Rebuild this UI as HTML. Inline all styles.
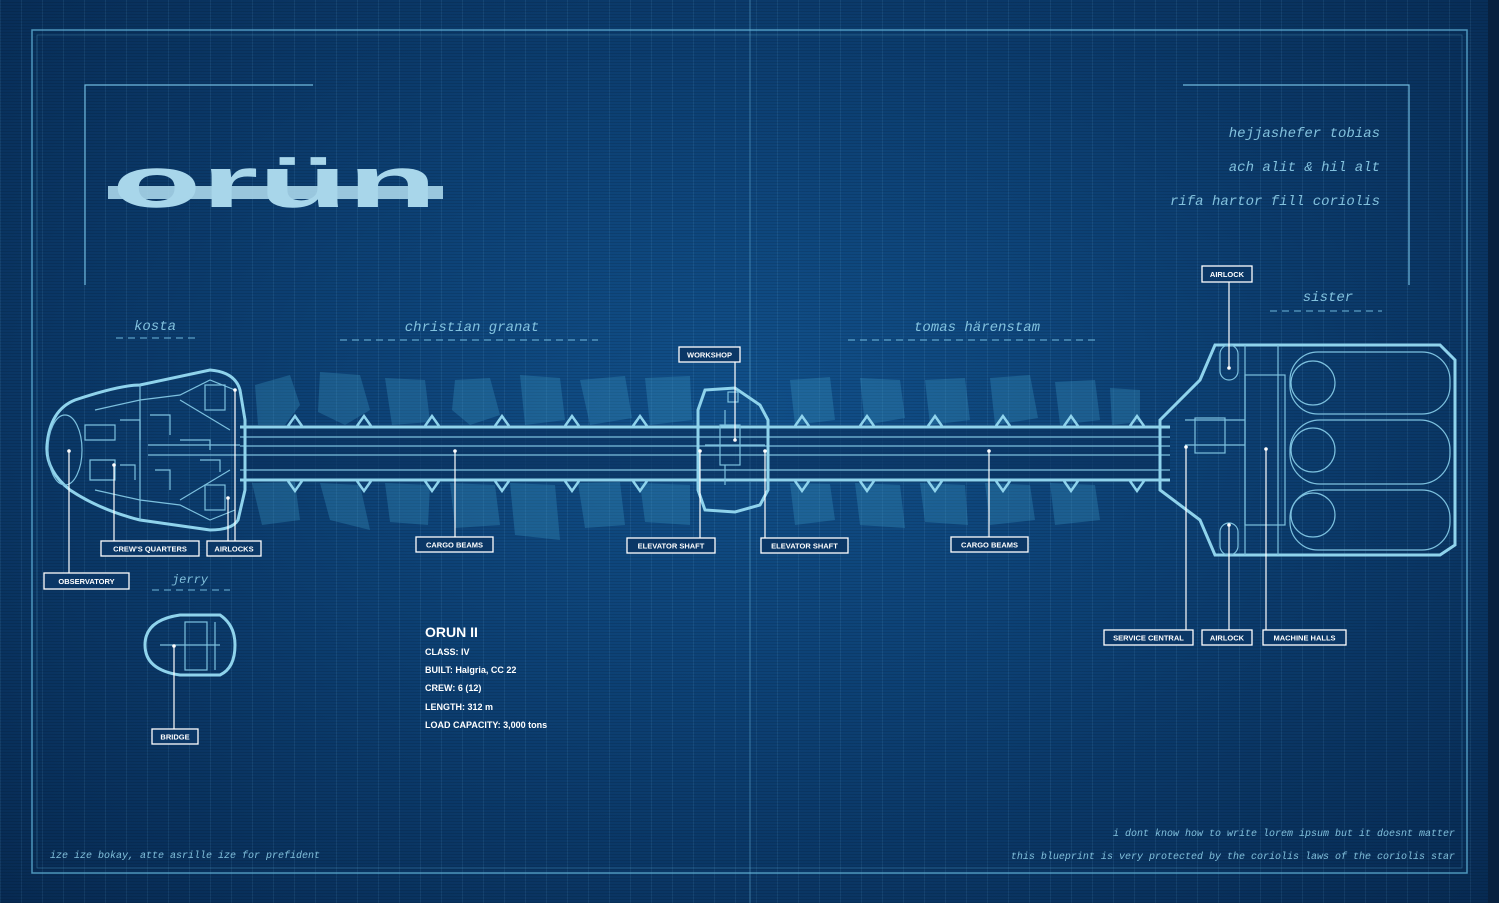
<!DOCTYPE html>
<html><head><meta charset="utf-8"><style>
html,body{margin:0;padding:0;}
body{width:1499px;height:903px;overflow:hidden;background:#0a3463;font-family:"Liberation Sans",sans-serif;}
#bg{position:absolute;left:0;top:0;width:1499px;height:903px;
background:
repeating-linear-gradient(0deg,rgba(0,0,0,0.10) 0 1px,transparent 1px 3px),
repeating-linear-gradient(90deg,rgba(120,190,230,0.10) 0 1px,transparent 1px 21px),
radial-gradient(ellipse at 50% 45%,#11508a 0%,#0c3f72 45%,#072a52 100%);}
svg{position:absolute;left:0;top:0;}
.lbl{fill:#fff;font-family:"Liberation Sans",sans-serif;font-weight:bold;font-size:7.5px;text-anchor:middle;}
.box{fill:#0b3766;stroke:#fff;stroke-width:1.3;}
.ld{stroke:#fff;stroke-width:1.2;fill:none;}
.sc{fill:#8fd0ea;font-family:"Liberation Mono",monospace;font-style:italic;opacity:0.9;}
.h{fill:none;stroke:#8fd3ec;stroke-width:3;}
.t{fill:none;stroke:#7cc0de;stroke-width:1.2;}
.blob{fill:#3f9cc7;opacity:0.3;}
.info{fill:#fff;font-weight:bold;font-size:9px;}
</style></head><body>
<div id="bg"></div>
<svg width="1499" height="903" viewBox="0 0 1499 903">
<rect x="32" y="30" width="1435" height="843" fill="none" stroke="#5fb0d6" stroke-width="1.5" opacity="0.8"/>
<rect x="37" y="35" width="1425" height="833" fill="none" stroke="#5fb0d6" stroke-width="0.6" opacity="0.5"/>
<line x1="750" y1="0" x2="750" y2="903" stroke="#6ab4da" stroke-width="1" opacity="0.5"/>
<rect x="1488" y="0" width="11" height="903" fill="#08213f"/>
<g stroke="#6fb8dc" stroke-width="1.2" fill="none">
<polyline points="313,85 85,85 85,285"/><polyline points="1183,85 1409,85 1409,285"/>
</g>
<!-- title -->
<rect x="108" y="186" width="335" height="13" fill="#a8d6ea" opacity="0.9"/>
<text x="112" y="207" fill="#a8d6ea" font-size="72" font-weight="bold" font-family="'Liberation Sans',sans-serif" textLength="325" lengthAdjust="spacingAndGlyphs">orün</text>
<g class="sc" font-size="14">
<text x="1380" y="137" text-anchor="end">hejjashefer tobias</text>
<text x="1380" y="171" text-anchor="end">ach alit &amp; hil alt</text>
<text x="1380" y="205" text-anchor="end">rifa hartor fill coriolis</text>
<text x="155" y="330" text-anchor="middle">kosta</text>
<text x="472" y="331" text-anchor="middle">christian granat</text>
<text x="977" y="331" text-anchor="middle">tomas härenstam</text>
<text x="1328" y="301" text-anchor="middle">sister</text>
<text x="190" y="583" text-anchor="middle" font-size="12">jerry</text>
</g>
<g stroke="#6fb8dc" stroke-dasharray="7,5" stroke-width="1">
<line x1="116" y1="338" x2="200" y2="338"/><line x1="340" y1="340" x2="598" y2="340"/>
<line x1="848" y1="340" x2="1100" y2="340"/><line x1="1270" y1="311" x2="1382" y2="311"/>
<line x1="152" y1="590" x2="230" y2="590"/>
</g>
<g class="sc" font-size="10">
<text x="50" y="858">ize ize bokay, atte asrille ize for prefident</text>
<text x="1455" y="836" text-anchor="end">i dont know how to write lorem ipsum but it doesnt matter</text>
<text x="1455" y="859" text-anchor="end">this blueprint is very protected by the coriolis laws of the coriolis star</text>
</g>
<g class="blob">
<polygon points="255,385 290,375 300,405 285,425 258,425"/>
<polygon points="320,372 360,375 370,410 345,425 318,412"/>
<polygon points="385,378 425,380 430,422 392,425"/>
<polygon points="455,380 490,378 500,415 470,425 452,410"/>
<polygon points="520,375 560,378 565,420 525,425"/>
<polygon points="580,380 625,376 632,418 590,425"/>
<polygon points="645,378 690,376 692,420 650,425"/>
<polygon points="790,380 830,377 835,420 795,425"/>
<polygon points="860,378 900,380 905,418 865,425"/>
<polygon points="925,380 965,378 970,420 930,425"/>
<polygon points="990,378 1030,375 1038,418 995,425"/>
<polygon points="1055,382 1095,380 1100,420 1060,425"/>
<polygon points="1110,388 1140,390 1140,422 1112,425"/>
<polygon points="252,483 295,482 300,520 262,525"/>
<polygon points="320,483 360,485 370,530 330,520"/>
<polygon points="385,483 430,485 428,525 390,522"/>
<polygon points="450,483 495,485 500,525 455,528"/>
<polygon points="510,483 555,485 560,540 515,535"/>
<polygon points="578,483 620,482 625,525 585,528"/>
<polygon points="640,483 690,485 690,525 645,522"/>
<polygon points="790,483 830,484 835,520 795,525"/>
<polygon points="855,483 900,485 905,528 860,525"/>
<polygon points="920,483 965,485 968,525 925,522"/>
<polygon points="985,483 1030,485 1035,520 990,525"/>
<polygon points="1050,483 1095,485 1100,520 1055,525"/>
</g>
<rect x="240" y="425" width="930" height="57" fill="#0a2f5a" opacity="0.6"/>
<g class="h"><line x1="240" y1="427" x2="1170" y2="427"/><line x1="240" y1="480" x2="1170" y2="480"/></g>
<g class="t"><line x1="240" y1="437" x2="1170" y2="437"/><line x1="240" y1="446" x2="1170" y2="446"/><line x1="240" y1="455" x2="1170" y2="455"/><line x1="240" y1="470" x2="1170" y2="470"/></g>
<g fill="none" stroke="#8fd3ec" stroke-width="2.5">
<path d="M288,426 l7,-10 l7,10 M357,426 l7,-10 l7,10 M425,426 l7,-10 l7,10 M495,426 l7,-10 l7,10 M565,426 l7,-10 l7,10 M633,426 l7,-10 l7,10 M795,426 l7,-10 l7,10 M860,426 l7,-10 l7,10 M928,426 l7,-10 l7,10 M996,426 l7,-10 l7,10 M1064,426 l7,-10 l7,10 M1130,426 l7,-10 l7,10"/>
<path d="M288,481 l7,10 l7,-10 M357,481 l7,10 l7,-10 M425,481 l7,10 l7,-10 M495,481 l7,10 l7,-10 M565,481 l7,10 l7,-10 M633,481 l7,10 l7,-10 M795,481 l7,10 l7,-10 M860,481 l7,10 l7,-10 M928,481 l7,10 l7,-10 M996,481 l7,10 l7,-10 M1064,481 l7,10 l7,-10 M1130,481 l7,10 l7,-10"/>
</g>
<path d="M75,400 Q120,385 140,385 L210,370 Q235,372 240,390 L245,420 L245,490 L238,520 Q232,530 210,530 L140,520 Q100,510 70,490 Q45,470 47,445 Q50,410 75,400Z" fill="#0a2f5a" class="h"/>
<ellipse cx="65" cy="450" rx="17" ry="35" class="t"/>
<g class="t">
<path d="M140,385 L140,520 M95,410 L140,400 L180,395 L210,380 L235,390 M95,490 L140,500 L180,505 L210,520 L235,510"/>
<path d="M180,400 L230,430 M180,500 L230,470 M148,445 L240,445 M148,455 L240,455 M85,425 h30 v15 h-30z M90,460 h25 v20 h-25z M120,420 h20 v20 M120,465 h15 v15 M150,415 h20 v20 M155,470 h15 v20 M180,440 h30 v10 M200,460 h20 v12"/>
<rect x="205" y="385" width="20" height="25"/><rect x="205" y="485" width="20" height="25"/>
</g>
<path d="M705,390 L735,388 L760,405 L768,420 L768,490 L760,505 L735,512 L705,510 L698,490 L698,410Z" fill="#0a2f5a" class="h"/>
<g class="t"><rect x="720" y="425" width="20" height="40"/><path d="M705,445 h60 M725,410 v15 M725,465 v20"/><rect x="728" y="392" width="10" height="10"/></g>
<path d="M1160,420 L1200,380 L1215,345 L1440,345 L1455,360 L1455,545 L1440,555 L1215,555 L1200,520 L1160,490Z" fill="#0a2f5a" class="h"/>
<g class="t">
<rect x="1220" y="345" width="18" height="35" rx="9"/><rect x="1220" y="523" width="18" height="32" rx="9"/>
<path d="M1245,345 v210 M1278,345 v210 M1185,420 L1245,420 M1245,445 h-60"/>
<rect x="1245" y="375" width="40" height="150"/>
<rect x="1195" y="418" width="30" height="35"/>
<rect x="1290" y="352" width="160" height="62" rx="28"/>
<rect x="1290" y="420" width="160" height="64" rx="30"/>
<rect x="1290" y="490" width="160" height="60" rx="28"/>
<circle cx="1313" cy="383" r="22"/><circle cx="1313" cy="450" r="22"/><circle cx="1313" cy="515" r="22"/>
</g>
<path d="M145,645 Q145,620 180,615 L220,615 Q235,625 235,645 Q235,668 220,675 L180,675 Q145,670 145,645Z" fill="#0a2f5a" class="h"/>
<g class="t"><rect x="185" y="622" width="22" height="48"/><path d="M160,645 h60 M215,622 v48"/></g>
<g class="ld">
<line x1="735" y1="362" x2="735" y2="440"/>
<line x1="114" y1="541" x2="114" y2="465"/>
<line x1="228" y1="541" x2="228" y2="498"/>
<line x1="235" y1="541" x2="235" y2="390"/>
<line x1="69" y1="573" x2="69" y2="451"/>
<line x1="455" y1="537" x2="455" y2="451"/>
<line x1="700" y1="538" x2="700" y2="451"/>
<line x1="765" y1="538" x2="765" y2="451"/>
<line x1="989" y1="537" x2="989" y2="451"/>
<line x1="1229" y1="282" x2="1229" y2="368"/>
<line x1="1186" y1="630" x2="1186" y2="447"/>
<line x1="1229" y1="630" x2="1229" y2="525"/>
<line x1="1266" y1="630" x2="1266" y2="449"/>
<line x1="174" y1="729" x2="174" y2="646"/>
</g>
<g fill="#fff">
<circle cx="735" cy="440" r="1.8"/><circle cx="114" cy="465" r="1.8"/><circle cx="228" cy="498" r="1.8"/><circle cx="235" cy="390" r="1.8"/><circle cx="69" cy="451" r="1.8"/><circle cx="455" cy="451" r="1.8"/><circle cx="700" cy="451" r="1.8"/><circle cx="765" cy="451" r="1.8"/><circle cx="989" cy="451" r="1.8"/><circle cx="1229" cy="368" r="1.8"/><circle cx="1186" cy="447" r="1.8"/><circle cx="1229" cy="525" r="1.8"/><circle cx="1266" cy="449" r="1.8"/><circle cx="174" cy="646" r="1.8"/>
</g>
<g>
<rect class="box" x="679" y="347" width="61" height="15"/><text class="lbl" x="709.5" y="357.5">WORKSHOP</text>
<rect class="box" x="101" y="541" width="98" height="15"/><text class="lbl" x="150" y="551.5">CREW'S QUARTERS</text>
<rect class="box" x="207" y="541" width="54" height="15"/><text class="lbl" x="234" y="551.5">AIRLOCKS</text>
<rect class="box" x="44" y="573" width="85" height="16"/><text class="lbl" x="86.5" y="584">OBSERVATORY</text>
<rect class="box" x="416" y="537" width="77" height="15"/><text class="lbl" x="454.5" y="547.5">CARGO BEAMS</text>
<rect class="box" x="627" y="538" width="88" height="15"/><text class="lbl" x="671" y="548.5">ELEVATOR SHAFT</text>
<rect class="box" x="761" y="538" width="87" height="15"/><text class="lbl" x="804.5" y="548.5">ELEVATOR SHAFT</text>
<rect class="box" x="951" y="537" width="77" height="15"/><text class="lbl" x="989.5" y="547.5">CARGO BEAMS</text>
<rect class="box" x="1202" y="266" width="50" height="16"/><text class="lbl" x="1227" y="277">AIRLOCK</text>
<rect class="box" x="1104" y="630" width="89" height="15"/><text class="lbl" x="1148.5" y="640.5">SERVICE CENTRAL</text>
<rect class="box" x="1202" y="630" width="50" height="15"/><text class="lbl" x="1227" y="640.5">AIRLOCK</text>
<rect class="box" x="1263" y="630" width="83" height="15"/><text class="lbl" x="1304.5" y="640.5">MACHINE HALLS</text>
<rect class="box" x="152" y="729" width="46" height="15"/><text class="lbl" x="175" y="739.5">BRIDGE</text>
</g>
<text x="425" y="637" fill="#fff" font-size="14" font-weight="bold">ORUN II</text>
<text class="info" x="425" y="655">CLASS: IV</text>
<text class="info" x="425" y="673">BUILT: Halgria, CC 22</text>
<text class="info" x="425" y="691">CREW: 6 (12)</text>
<text class="info" x="425" y="710">LENGTH: 312 m</text>
<text class="info" x="425" y="728">LOAD CAPACITY: 3,000 tons</text>
</svg>
</body></html>
